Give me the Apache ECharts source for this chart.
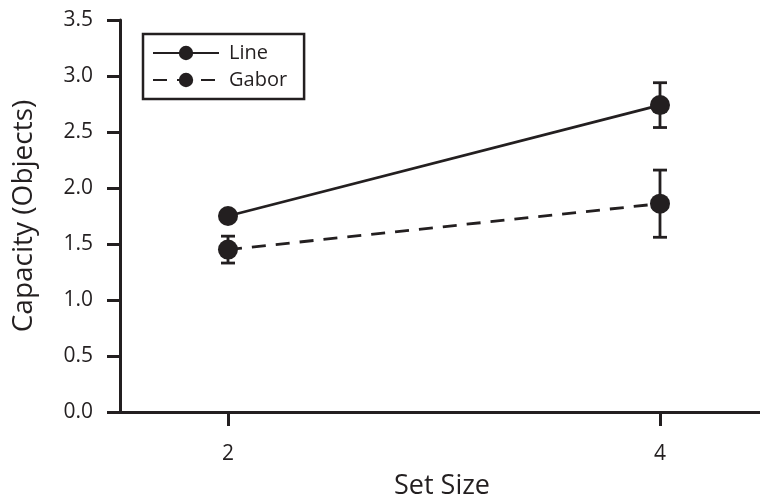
<!DOCTYPE html>
<html><head><meta charset="utf-8">
<script src="https://cdn.jsdelivr.net/npm/echarts@6/dist/echarts.min.js"></script>
<style>html,body{margin:0;padding:0;background:#fff}#c{width:760px;height:502px}</style>
</head><body><div id="c"></div>
<script>
var setSizes = [2, 4];
var lineMeans = [1.75, 2.74];
var lineErr = [0.05, 0.20];
var gaborMeans = [1.45, 1.86];
var gaborErr = [0.12, 0.30];
var yTicks = ['0.0','0.5','1.0','1.5','2.0','2.5','3.0','3.5'];

var ink = '#231f20';
var font = '"Open Sans", "DejaVu Sans", sans-serif';

function pts(xs, ys){ return xs.map(function(x,i){ return [x, ys[i]]; }); }
function errData(xs, ys, es){ return xs.map(function(x,i){ return [x, ys[i]-es[i], ys[i]+es[i]]; }); }

function errRender(params, api){
  var x = api.value(0);
  var lo = api.coord([x, api.value(1)]);
  var hi = api.coord([x, api.value(2)]);
  var hw = 7;
  var st = {stroke: ink, lineWidth: 2.8};
  return {type:'group', children:[
    {type:'line', shape:{x1:lo[0],y1:lo[1],x2:hi[0],y2:hi[1]}, style:st},
    {type:'line', shape:{x1:lo[0]-hw,y1:lo[1],x2:lo[0]+hw,y2:lo[1]}, style:st},
    {type:'line', shape:{x1:hi[0]-hw,y1:hi[1],x2:hi[0]+hw,y2:hi[1]}, style:st}
  ]};
}

var chart = echarts.init(document.getElementById('c'));
chart.setOption({
  animation:false,
  grid:{left:120, top:20, width:640, height:392, containLabel:false},
  legend:{
    left:143, top:34, orient:'vertical',
    data:['Line','Gabor'],
    itemWidth:66, itemHeight:18, itemGap:7,
    padding:[9,17,9,9],
    borderColor:ink, borderWidth:2.5,
    textStyle:{color:ink, fontSize:20, fontFamily:font, padding:[0,0,0,5]}
  },
  xAxis:{
    type:'value', min:1.5, max:4.463, interval:0.5,
    axisLine:{show:true, lineStyle:{color:ink, width:3}},
    axisTick:{show:true, length:14, lineStyle:{color:ink, width:3},
      customValues:setSizes},
    axisLabel:{color:ink, fontSize:21, fontFamily:font, margin:32,
      customValues:setSizes, formatter:function(v){return String(v);}},
    splitLine:{show:false}
  },
  yAxis:{
    type:'value', min:0, max:3.5, interval:0.5,
    name:'Capacity (Objects)', nameLocation:'middle', nameGap:82,
    nameTextStyle:{color:ink, fontSize:28, fontFamily:font},
    axisLine:{show:true, lineStyle:{color:ink, width:3}},
    axisTick:{show:true, length:13, lineStyle:{color:ink, width:3}},
    axisLabel:{color:ink, fontSize:21, fontFamily:font, margin:27,
      formatter:function(v){ return yTicks[Math.round(v*2)]; }},
    splitLine:{show:false}
  },
  graphic:[{type:'text', x:442, y:486,
    style:{text:'Set Size', fill:ink, fontSize:27, fontFamily:font, textAlign:'center', textVerticalAlign:'middle'}}],
  series:[
    {name:'Line', type:'line', data:pts(setSizes, lineMeans), symbol:'circle', symbolSize:20,
      itemStyle:{color:ink}, lineStyle:{color:ink, width:2.8, type:'solid'}, z:3},
    {name:'Gabor', type:'line', data:pts(setSizes, gaborMeans), symbol:'circle', symbolSize:20,
      itemStyle:{color:ink}, lineStyle:{color:ink, width:2.8, type:[14,10]}, z:3},
    {type:'custom', data:errData(setSizes, lineMeans, lineErr), renderItem:errRender, z:2, silent:true},
    {type:'custom', data:errData(setSizes, gaborMeans, gaborErr), renderItem:errRender, z:2, silent:true}
  ]
});
</script></body></html>
